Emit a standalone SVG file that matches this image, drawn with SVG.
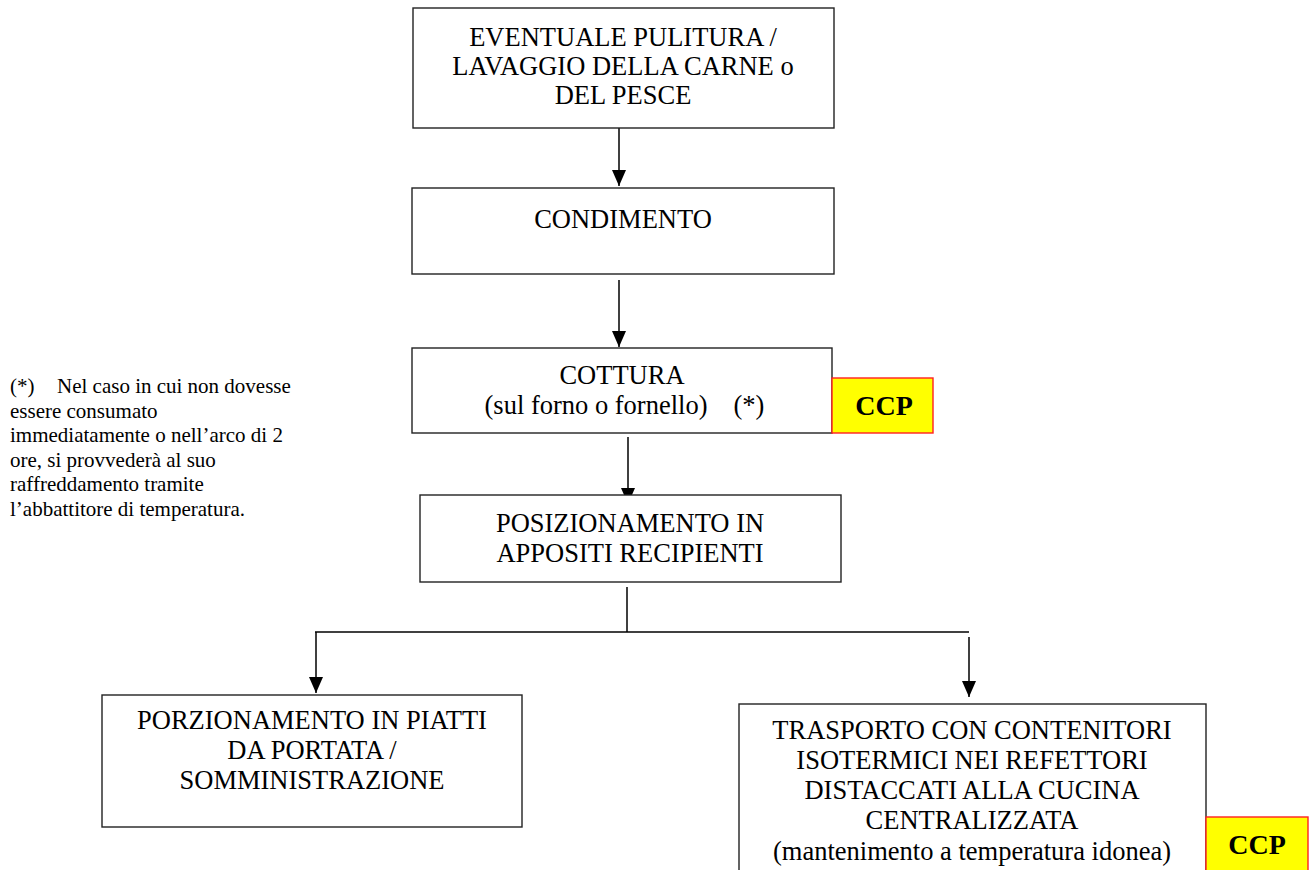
<svg xmlns="http://www.w3.org/2000/svg" width="1311" height="870" viewBox="0 0 1311 870">
<style>
.box{fill:#fff;stroke:#222;stroke-width:1.4}
.ccp{fill:#ffff00;stroke:#ff2020;stroke-width:1.4}
.t{font-family:"Liberation Serif","Times New Roman",serif;font-size:26.5px;fill:#000;text-anchor:middle}
.c{font-family:"Liberation Serif","Times New Roman",serif;font-size:28px;font-weight:bold;fill:#000;text-anchor:middle}
.n{font-family:"Liberation Serif","Times New Roman",serif;font-size:21px;fill:#000}
.ln{fill:none;stroke:#000;stroke-width:1.5}
</style>
<defs>
<marker id="ah" viewBox="0 0 16 14" refX="16" refY="7" markerWidth="16" markerHeight="14" markerUnits="userSpaceOnUse" orient="auto">
<path d="M0,0 L16,7 L0,14 z" fill="#000"/>
</marker>
</defs>
<rect width="1311" height="870" fill="#fff"/>
<g id="connectors">
<line class="ln" x1="619" y1="128" x2="619" y2="186" marker-end="url(#ah)"/>
<line class="ln" x1="619" y1="280" x2="619" y2="347" marker-end="url(#ah)"/>
<line class="ln" x1="628" y1="437" x2="628" y2="504" marker-end="url(#ah)"/>
<line class="ln" x1="627" y1="587" x2="627" y2="632"/>
<line class="ln" x1="315" y1="632" x2="969" y2="632"/>
<line class="ln" x1="316" y1="632" x2="316" y2="693" marker-end="url(#ah)"/>
<line class="ln" x1="969" y1="637" x2="969" y2="697" marker-end="url(#ah)"/>
</g>
<g id="n1">
<rect class="box" x="413" y="8" width="421" height="120"/>
<text class="t" x="623" y="46">EVENTUALE PULITURA /</text>
<text class="t" x="623" y="75">LAVAGGIO DELLA CARNE o</text>
<text class="t" x="623" y="104">DEL PESCE</text>
</g>
<g id="n2">
<rect class="box" x="412" y="188" width="422" height="86"/>
<text class="t" x="623" y="228">CONDIMENTO</text>
</g>
<g id="n3">
<rect class="box" x="412" y="348" width="420" height="85"/>
<text class="t" x="622" y="384">COTTURA</text>
<text class="t" x="596" y="414">(sul forno o fornello)</text>
<text class="t" x="749" y="414">(*)</text>
</g>
<g id="ccp1">
<rect class="ccp" x="832" y="378" width="101" height="55"/>
<text class="c" x="884" y="415">CCP</text>
</g>
<g id="note">
<text class="n" x="10" y="393">(*)<tspan x="57">Nel caso in cui non dovesse</tspan></text>
<text class="n" x="10" y="417.5">essere consumato</text>
<text class="n" x="10" y="442">immediatamente o nell’arco di 2</text>
<text class="n" x="10" y="466.5">ore, si provvederà al suo</text>
<text class="n" x="10" y="491">raffreddamento tramite</text>
<text class="n" x="10" y="515.5">l’abbattitore di temperatura.</text>
</g>
<g id="n4">
<rect class="box" x="420" y="495" width="421" height="87"/>
<text class="t" x="630" y="532">POSIZIONAMENTO IN</text>
<text class="t" x="630" y="562">APPOSITI RECIPIENTI</text>
</g>
<g id="n5">
<rect class="box" x="102" y="695" width="420" height="132"/>
<text class="t" x="312" y="729">PORZIONAMENTO IN PIATTI</text>
<text class="t" x="312" y="759">DA PORTATA /</text>
<text class="t" x="312" y="789">SOMMINISTRAZIONE</text>
</g>
<g id="n6">
<rect class="box" x="739" y="704" width="467" height="180"/>
<text class="t" x="972" y="739">TRASPORTO CON CONTENITORI</text>
<text class="t" x="972" y="769">ISOTERMICI NEI REFETTORI</text>
<text class="t" x="972" y="799">DISTACCATI ALLA CUCINA</text>
<text class="t" x="972" y="829">CENTRALIZZATA</text>
<text class="t" x="972" y="860">(mantenimento a temperatura idonea)</text>
</g>
<g id="ccp2">
<rect class="ccp" x="1206" y="817" width="102" height="70"/>
<text class="c" x="1257" y="854">CCP</text>
</g>
</svg>
